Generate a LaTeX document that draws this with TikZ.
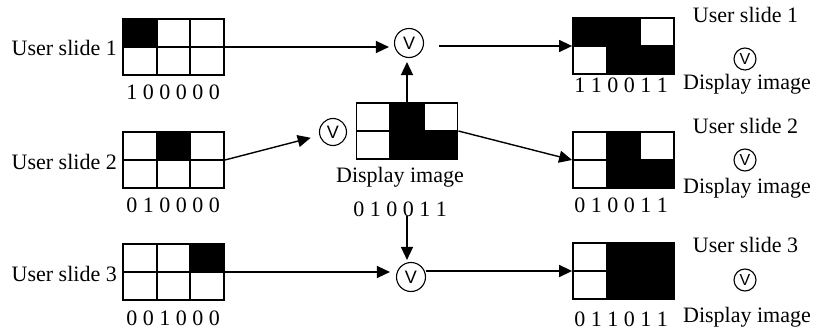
\documentclass[tikz,border=0pt]{standalone}
\usepackage{fontspec}
\setmainfont{Liberation Serif}
\newfontfamily\vfont{Liberation Sans}
\usetikzlibrary{arrows.meta}
\newcommand\cellgrid[4]{%
  \foreach \c/\r in {#4} {\fill ({#2+\c*101/3},{#3+\r*28}) rectangle ++({101/3},28);}
  \draw[gl] ({#2+101/3},#3) -- ++(0,56) ({#2+202/3},#3) -- ++(0,56) (#2,{#3+28}) -- ++(101,0);
  \node[gridbox] (#1) at ({#2+50.5},{#3+28}) {};
}
\begin{document}
\begin{tikzpicture}[x=1pt,y=-1pt,
  gridbox/.style={draw, line width=1.8pt, minimum width=101pt, minimum height=56pt, inner sep=0pt},
  gl/.style={line width=1.8pt},
  orop/.style={circle, draw, line width=1.1pt, minimum size=29pt, inner sep=0pt, font=\vfont\fontsize{18}{18}\selectfont},
  orsmall/.style={orop, minimum size=22pt, font=\vfont\fontsize{16}{16}\selectfont},
  lbl/.style={font=\fontsize{22}{26}\selectfont, inner sep=0pt, anchor=base},
  arr/.style={-{Triangle[length=13pt,width=12pt]}, line width=1.4pt}]
\useasboundingbox (0,0) rectangle (815,332);
% grids
\cellgrid{g1}{123}{19}{0/0}
\cellgrid{g2}{123}{132}{1/0}
\cellgrid{g3}{123}{244}{2/0}
\cellgrid{m}{356.5}{103}{1/0,1/1,2/1}
\cellgrid{r1}{573}{18}{0/0,1/0,1/1,2/1}
\cellgrid{r2}{573}{132}{1/0,1/1,2/1}
\cellgrid{r3}{573}{243}{1/0,2/0,1/1,2/1}
% operator circles
\node[orop] (c1) at (409,43) {V};
\node[orop, minimum size=27pt] (c2) at (333,132) {V};
\node[orop] (c3) at (411,277) {V};
\node[orsmall] (s1) at (745,59) {V};
\node[orsmall] (s2) at (745,160) {V};
\node[orsmall] (s3) at (745,280) {V};
% labels
\node[lbl, anchor=base east] (l1) at (117,55) {User slide 1};
\node[lbl, anchor=base east] (l2) at (117,169) {User slide 2};
\node[lbl, anchor=base east] (l3) at (117,281) {User slide 3};
\node[lbl] (b1) at (173,99) {1 0 0 0 0 0};
\node[lbl] (b2) at (173,212) {0 1 0 0 0 0};
\node[lbl] (b3) at (173,325) {0 0 1 0 0 0};
\node[lbl] (mlab) at (400,182) {Display image};
\node[lbl] (mbits) at (400,216) {0 1 0 0 1 1};
\node[lbl] (rb1) at (621,92) {1 1 0 0 1 1};
\node[lbl] (rb2) at (621,212) {0 1 0 0 1 1};
\node[lbl] (rb3) at (621,326) {0 1 1 0 1 1};
\node[lbl] (ru1) at (745.5,23) {User slide 1};
\node[lbl] (rd1) at (747,89) {Display image};
\node[lbl] (ru2) at (745.5,133) {User slide 2};
\node[lbl] (rd2) at (747,193) {Display image};
\node[lbl] (ru3) at (745.5,252) {User slide 3};
\node[lbl] (rd3) at (747,322) {Display image};
% connectors
\draw[arr, shorten >=5pt] (g1.east) -- (g1.east -| c1.west);
\draw[arr, shorten <=15pt] (r1.west -| c1.east) -- (r1.west);
\draw[arr, shorten >=4pt] (m.north) -- (m.north |- c1.south);
\draw[arr, shorten >=9pt] (g2.east) -- (c2);
\draw[arr] (m.east) -- (r2.west);
\draw[arr, shorten >=6pt] (g3.east) -- (g3.east -| c3.west);
\draw[arr, shorten >=2pt] (m.south |- mbits.south) -- (m.south |- c3.north);
\draw[arr] (r3.west -| c3.east) -- (r3.west);
\end{tikzpicture}
\end{document}
